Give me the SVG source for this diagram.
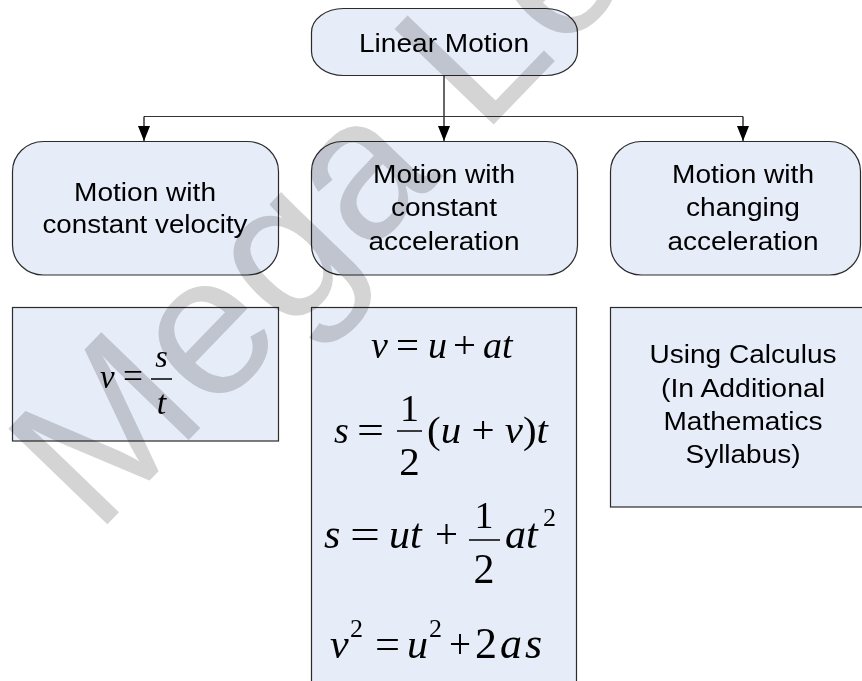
<svg xmlns="http://www.w3.org/2000/svg" width="862" height="681" viewBox="0 0 862 681">
<defs>
<marker id="ah" markerUnits="userSpaceOnUse" markerWidth="16" markerHeight="12" refX="15" refY="6" orient="auto">
<path d="M0,0 L15,6 L0,12 z" fill="#000"/>
</marker>
<style>
.node{fill:#e6ecf8;stroke:#2b2b2b;stroke-width:1.2}
.lbl{font-family:"Liberation Sans",Arial,sans-serif;font-size:26px;fill:#000;text-anchor:middle}
.m{font-family:"Liberation Serif","Times New Roman",serif;fill:#000}
.i{font-style:italic}
.mid{text-anchor:middle}
.conn{stroke:#000;stroke-width:1.2;fill:none}
.hline{stroke:#333;stroke-width:1.2;fill:none}
.bar{stroke:#000;stroke-width:1.5}
.wm{font-family:"Liberation Sans",Arial,sans-serif;font-size:200px;fill:#d4d4d4;mix-blend-mode:multiply}
</style>
</defs>
<rect width="862" height="681" fill="#fff"/>

<g id="connectors">
<path class="conn" d="M444,75 V141" marker-end="url(#ah)"/>
<path class="hline" d="M144,116.5 H743"/>
<path class="conn" d="M144,116.5 V141" marker-end="url(#ah)"/>
<path class="conn" d="M743,116.5 V141" marker-end="url(#ah)"/>
</g>

<g id="linear-motion">
<rect class="node" x="311.5" y="8.5" width="266" height="67" rx="32" ry="24"/>
<text class="lbl" x="444" y="52" textLength="170" lengthAdjust="spacingAndGlyphs">Linear Motion</text>
</g>

<g id="constant-velocity">
<rect class="node" x="12.5" y="141.5" width="266" height="133.5" rx="31" ry="30"/>
<text class="lbl" x="145" y="200.5" textLength="142" lengthAdjust="spacingAndGlyphs">Motion with</text>
<text class="lbl" x="145" y="233" textLength="205" lengthAdjust="spacingAndGlyphs">constant velocity</text>
</g>

<g id="constant-acceleration">
<rect class="node" x="311.5" y="141.5" width="266" height="133.5" rx="31" ry="30"/>
<text class="lbl" x="444" y="182.5" textLength="142" lengthAdjust="spacingAndGlyphs">Motion with</text>
<text class="lbl" x="444" y="216" textLength="106" lengthAdjust="spacingAndGlyphs">constant</text>
<text class="lbl" x="444" y="249.5" textLength="151" lengthAdjust="spacingAndGlyphs">acceleration</text>
</g>

<g id="changing-acceleration">
<rect class="node" x="610.5" y="141.5" width="250" height="133.5" rx="31" ry="30"/>
<text class="lbl" x="743" y="182.5" textLength="142" lengthAdjust="spacingAndGlyphs">Motion with</text>
<text class="lbl" x="743" y="216" textLength="114" lengthAdjust="spacingAndGlyphs">changing</text>
<text class="lbl" x="743" y="249.5" textLength="151" lengthAdjust="spacingAndGlyphs">acceleration</text>
</g>

<g id="formula-velocity">
<rect class="node" x="12.5" y="307.5" width="266" height="133.5"/>
<text class="m i" x="100" y="388" font-size="33">v</text>
<text class="m" x="123" y="388" font-size="36" textLength="20" lengthAdjust="spacingAndGlyphs">=</text>
<line class="bar" x1="151" y1="379" x2="172" y2="379"/>
<text class="m i mid" x="161.5" y="367" font-size="32">s</text>
<text class="m i mid" x="161.5" y="414" font-size="34">t</text>
</g>

<g id="formula-acceleration">
<rect class="node" x="311.5" y="307.5" width="265" height="380"/>
<text class="m i" x="371" y="358" font-size="38">v</text>
<text class="m" x="396" y="358" font-size="38" textLength="23" lengthAdjust="spacingAndGlyphs">=</text>
<text class="m i" x="428" y="358" font-size="38">u</text>
<text class="m" x="453" y="358" font-size="38" textLength="23" lengthAdjust="spacingAndGlyphs">+</text>
<text class="m i" x="483" y="358" font-size="38">at</text>

<text class="m i" x="334" y="443" font-size="38">s</text>
<text class="m" x="357" y="443" font-size="38" textLength="27" lengthAdjust="spacingAndGlyphs">=</text>
<text class="m mid" x="409.5" y="421" font-size="38">1</text>
<line class="bar" x1="397" y1="431" x2="422" y2="431"/>
<text class="m mid" x="409.5" y="475" font-size="41">2</text>
<text class="m" x="427" y="443" font-size="38" textLength="121" lengthAdjust="spacingAndGlyphs">(<tspan class="i">u</tspan> + <tspan class="i">v</tspan>)<tspan class="i">t</tspan></text>

<text class="m i" x="324" y="548" font-size="42">s</text>
<text class="m" x="350" y="548" font-size="42" textLength="30" lengthAdjust="spacingAndGlyphs">=</text>
<text class="m i" x="389" y="548" font-size="42">ut</text>
<text class="m" x="435" y="548" font-size="42" textLength="23" lengthAdjust="spacingAndGlyphs">+</text>
<text class="m mid" x="484" y="528" font-size="38">1</text>
<line class="bar" x1="469" y1="540" x2="500" y2="540"/>
<text class="m mid" x="484" y="583" font-size="42">2</text>
<text class="m i" x="505" y="548" font-size="42">at</text>
<text class="m" x="543" y="526" font-size="26">2</text>

<text class="m i" x="330" y="658" font-size="42">v</text>
<text class="m" x="350" y="637" font-size="26">2</text>
<text class="m" x="375" y="658" font-size="42" textLength="25" lengthAdjust="spacingAndGlyphs">=</text>
<text class="m i" x="407" y="658" font-size="42">u</text>
<text class="m" x="429" y="637" font-size="26">2</text>
<text class="m" x="449" y="658" font-size="42" textLength="22" lengthAdjust="spacingAndGlyphs">+</text>
<text class="m" x="475" y="658" font-size="44" letter-spacing="3">2<tspan class="i">as</tspan></text>
</g>

<g id="calculus">
<rect class="node" x="610.5" y="307.5" width="270" height="199.5"/>
<text class="lbl" x="743" y="363" textLength="187" lengthAdjust="spacingAndGlyphs">Using Calculus</text>
<text class="lbl" x="743" y="396.5" textLength="164" lengthAdjust="spacingAndGlyphs">(In Additional</text>
<text class="lbl" x="743" y="430" textLength="159" lengthAdjust="spacingAndGlyphs">Mathematics</text>
<text class="lbl" x="743" y="463" textLength="115" lengthAdjust="spacingAndGlyphs">Syllabus)</text>
</g>

<text class="wm" transform="translate(96 536) rotate(-46)">Mega Le</text>
</svg>
